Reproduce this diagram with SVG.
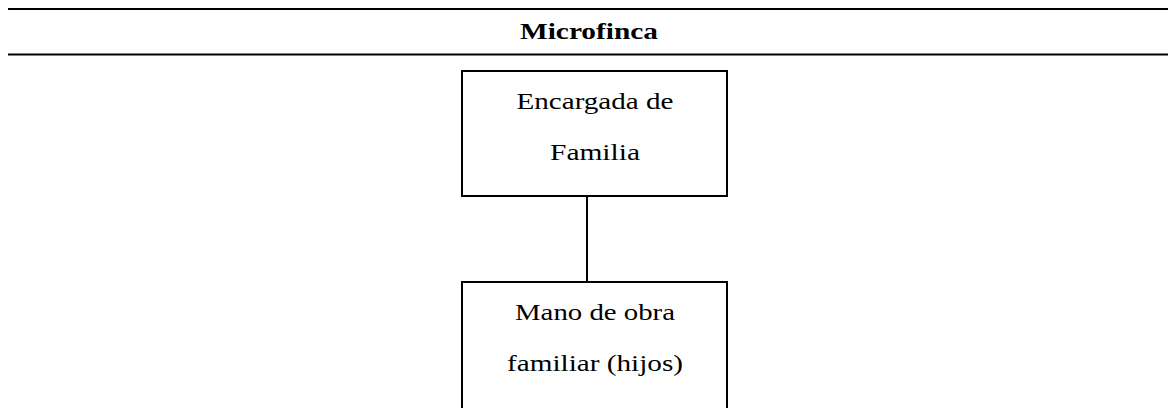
<svg xmlns="http://www.w3.org/2000/svg" width="1168" height="408" viewBox="0 0 1168 408">
<style>
.rule{stroke:#000;stroke-width:2}
.box{fill:#fff;stroke:#000;stroke-width:2}
.t{font-family:"Liberation Serif","Times New Roman",serif;font-size:24px;fill:#000;text-anchor:middle}
.h{font-family:"Liberation Serif","Times New Roman",serif;font-size:23px;font-weight:bold;fill:#000;text-anchor:middle}
.c{stroke:#000;stroke-width:2;fill:none}
</style>
<rect width="1168" height="408" fill="#fff"/>
<g id="header">
<line class="rule" x1="8" y1="9" x2="1168" y2="9"/>
<text class="h" x="589" y="39" textLength="138" lengthAdjust="spacingAndGlyphs">Microfinca</text>
<line class="rule" x1="8" y1="54.5" x2="1168" y2="54.5"/>
</g>
<g id="connectors">
<line class="c" x1="587" y1="196" x2="587" y2="282"/>
</g>
<g id="node-encargada">
<rect class="box" x="462" y="71" width="265" height="125"/>
<text class="t" x="595" y="109" textLength="157" lengthAdjust="spacingAndGlyphs">Encargada de</text>
<text class="t" x="595" y="160" textLength="90" lengthAdjust="spacingAndGlyphs">Familia</text>
</g>
<g id="node-mano">
<rect class="box" x="462" y="282" width="265" height="160"/>
<text class="t" x="595" y="320" textLength="160" lengthAdjust="spacingAndGlyphs">Mano de obra</text>
<text class="t" x="595" y="371" textLength="176" lengthAdjust="spacingAndGlyphs">familiar (hijos)</text>
</g>
</svg>
